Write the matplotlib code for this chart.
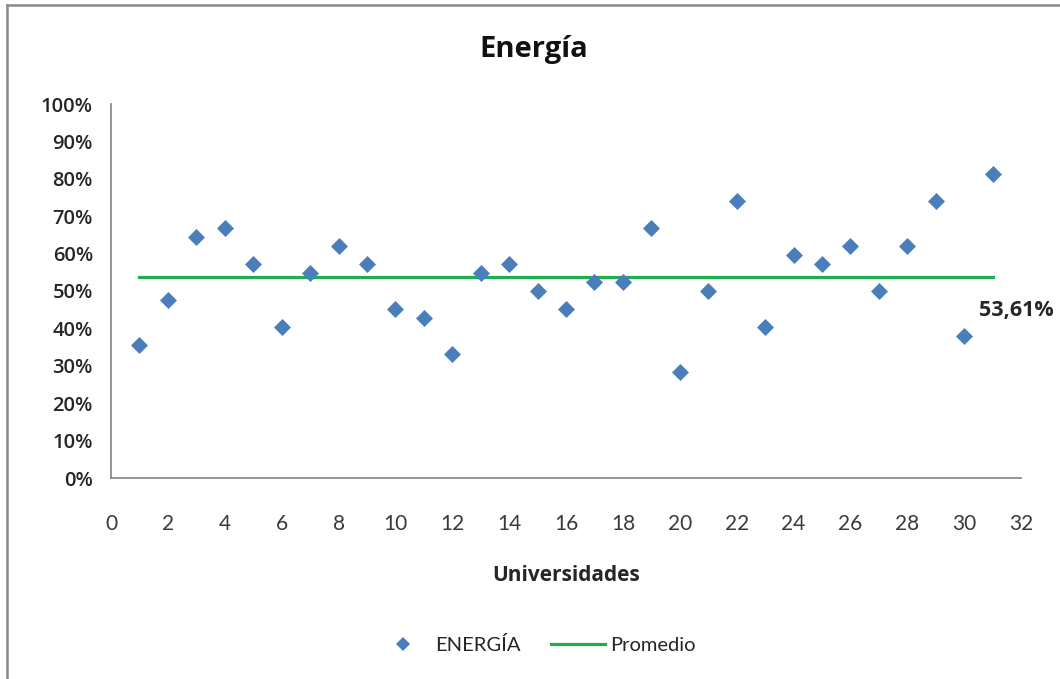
import matplotlib
matplotlib.use("Agg")
import matplotlib.pyplot as plt
from matplotlib.lines import Line2D
from matplotlib.ticker import PercentFormatter, MultipleLocator

# Energy score per university (fraction) and overall mean
universidades = list(range(1, 32))
energia = [0.355, 0.475, 0.644, 0.668, 0.571, 0.403, 0.547, 0.620, 0.571, 0.451,
           0.427, 0.331, 0.547, 0.571, 0.499, 0.451, 0.523, 0.523, 0.668, 0.283,
           0.499, 0.740, 0.403, 0.595, 0.571, 0.620, 0.499, 0.620, 0.740, 0.379,
           0.812]
promedio = 0.5361
promedio_label = "53,61%"

titulo = "Energía"
eje_x = "Universidades"
serie_puntos = "ENERGÍA"
serie_linea = "Promedio"

BLUE = "#4a7ebb"
GREEN = "#1fae4f"
AXIS = "#8c8c8c"
TEXT = "#262626"

W, H = 1060, 679
fig = plt.figure(figsize=(W / 100, H / 100), dpi=100)
fig.patch.set_facecolor("white")

ax = fig.add_axes([111 / W, 1 - 478 / H, (1021 - 111) / W, (478 - 104) / H])
ax.set_facecolor("white")

ax.scatter(universidades, energia, marker="D", s=75, color=BLUE, linewidths=0,
           zorder=3)
ax.plot([universidades[0], universidades[-1]], [promedio, promedio],
        color=GREEN, linewidth=2.3, zorder=2)
ax.annotate(promedio_label, xy=(universidades[-1], promedio), xytext=(17, -24),
            textcoords="offset points", ha="center", va="center",
            fontsize=15.5, fontweight="bold", color=TEXT, family="Open Sans",
            annotation_clip=False)

ax.set_xlim(0, 32)
ax.set_ylim(0, 1)
ax.xaxis.set_major_locator(MultipleLocator(2))
ax.yaxis.set_major_locator(MultipleLocator(0.1))
ax.yaxis.set_major_formatter(PercentFormatter(1.0, decimals=0))

for side in ("top", "right"):
    ax.spines[side].set_visible(False)
for side in ("left", "bottom"):
    ax.spines[side].set_color(AXIS)
    ax.spines[side].set_linewidth(1.3)

ax.tick_params(axis="both", length=0)
ax.tick_params(axis="y", pad=13)
ax.tick_params(axis="x", pad=26)
for lab in ax.get_yticklabels():
    lab.set_family("Open Sans")
    lab.set_fontsize(14.5)
    lab.set_fontweight("semibold")
    lab.set_color(TEXT)
for lab in ax.get_xticklabels():
    lab.set_family("Lato")
    lab.set_fontsize(15)
    lab.set_color("#3a3a3a")

ax.set_xlabel(eje_x, fontsize=15, fontweight="bold", family="Open Sans",
              color=TEXT, labelpad=22)
fig.text(534 / W, 1 - 49 / H, titulo, ha="center", va="center", fontsize=21,
         fontweight="bold", family="Open Sans", color="#111111")

handles = [
    Line2D([], [], marker="D", linestyle="none", color=BLUE, markersize=7,
           markeredgewidth=0),
    Line2D([], [], color=GREEN, linewidth=2.3),
]
leg = fig.legend(handles, [serie_puntos, serie_linea], loc="center",
                 bbox_to_anchor=(536 / W, 1 - 645 / H), ncol=2, frameon=False,
                 handlelength=2.7, handletextpad=0.25, columnspacing=1.5,
                 prop={"family": "Lato", "size": 14.5})
for t in leg.get_texts():
    t.set_color(TEXT)

# Outer frame: left and top edges
fig.add_artist(Line2D([6.5 / W, 6.5 / W], [0, 1 - 4.5 / H], transform=fig.transFigure,
                      color="#8a8a8a", linewidth=1.8))
fig.add_artist(Line2D([6.5 / W, 1], [1 - 4.5 / H, 1 - 4.5 / H],
                      transform=fig.transFigure, color="#8a8a8a", linewidth=1.8))

fig.savefig("out.png", dpi=100, facecolor="white")
